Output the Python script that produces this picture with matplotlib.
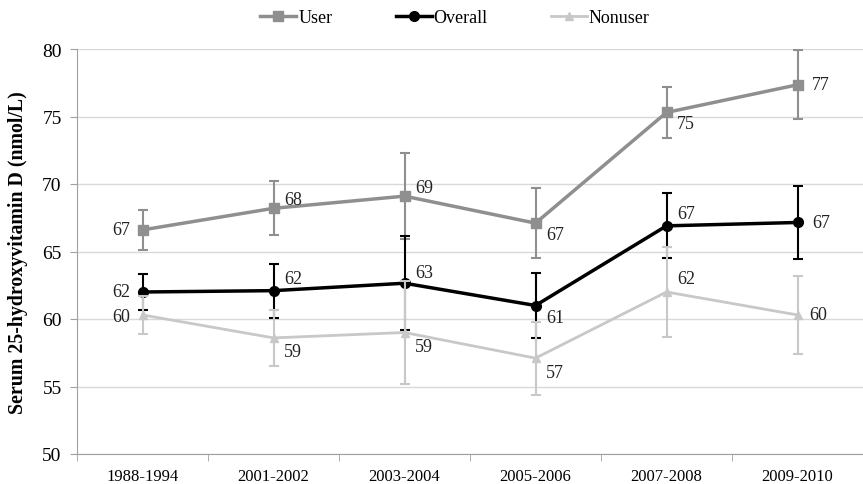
import matplotlib

matplotlib.use("Agg")
import matplotlib.pyplot as plt  # noqa: E402
import numpy as np  # noqa: E402
from matplotlib.lines import Line2D  # noqa: E402

periods = ["1988-1994", "2001-2002", "2003-2004", "2005-2006", "2007-2008", "2009-2010"]

user = [66.6, 68.2, 69.1, 67.1, 75.3, 77.35]
user_err = [1.5, 2.0, 3.2, 2.6, 1.9, 2.55]
overall = [62.0, 62.1, 62.65, 61.0, 66.9, 67.15]
overall_err = [1.3, 2.0, 3.5, 2.4, 2.4, 2.7]
nonuser = [60.3, 58.6, 59.0, 57.1, 62.0, 60.3]
nonuser_err = [1.4, 2.1, 3.8, 2.7, 3.3, 2.9]

# label placement per point: (dx, dy) in points
user_pos = [(-15, 0), (14, 6), (14, 6), (14, -8), (14, -8), (17, 0)]
overall_pos = [(-15, 0), (14, 9), (14, 8), (14, -9), (14, 9), (17, 0)]
nonuser_pos = [(-15, -1), (14, -10), (14, -10), (14, -10), (14, 10), (15, 0)]

plt.rcParams["font.family"] = ["Liberation Serif", "DejaVu Serif"]

fig = plt.figure(figsize=(8.63, 4.85), dpi=100)
ax = fig.add_axes([77 / 863, 1 - 455 / 485, 1 - 77 / 863, (455 - 50) / 485])

x = np.arange(len(periods))
series = [
    ("User", user, user_err, "#8f8f8f", "s", 7, 2.5, user_pos, 2),
    ("Overall", overall, overall_err, "#000000", "o", 7, 2.5, overall_pos, 3),
    ("Nonuser", nonuser, nonuser_err, "#c8c8c8", "^", 6, 2.0, nonuser_pos, 4),
]
handles = []
for name, vals, err, col, mk, ms, lw, pos, z in series:
    ax.errorbar(x, vals, yerr=err, color=col, marker=mk, ms=ms, lw=lw,
                elinewidth=1.5, capsize=3.5, capthick=1.5, zorder=z)
    handles.append(Line2D([], [], color=col, marker=mk, ms=ms, lw=lw, label=name))
    for xi, v, (dx, dy) in zip(x, vals, pos):
        ax.annotate(f"{v:.0f}", (xi, v), xytext=(dx, dy), textcoords="offset points",
                    ha="center", va="center", fontsize=13, color="#222222")

ax.set_ylim(50, 80)
ax.set_yticks(range(50, 81, 5))
ax.set_xlim(-0.5, 5 + (863 - 808) / 133)
ax.set_xticks(x)
ax.set_xticklabels(periods)
ax.set_xticks(np.arange(-0.5, 6, 1), minor=True)
ax.tick_params(axis="x", which="major", length=0, pad=10, labelsize=12)
ax.tick_params(axis="x", which="minor", length=5, color="#a0a0a0", direction="out")
ax.tick_params(axis="y", length=5, color="#a0a0a0", labelsize=14, pad=6)
ax.yaxis.grid(True, color="#d9d9d9", lw=1)
ax.set_axisbelow(True)
for s in ["top", "right"]:
    ax.spines[s].set_visible(False)
for s in ["left", "bottom"]:
    ax.spines[s].set_color("#a0a0a0")
ax.set_ylabel("Serum 25-hydroxyvitamin D (nmol/L)", fontsize=14.3, fontweight="bold", labelpad=10)

ax.legend(handles=handles, loc="upper center", bbox_to_anchor=(0.5 - 15 / 786, 50 / 405 + 1 + 0.015),
          ncol=3, frameon=False, fontsize=13, handlelength=2.0, columnspacing=3.5, handletextpad=0.1)

fig.savefig("out.png", dpi=100)
